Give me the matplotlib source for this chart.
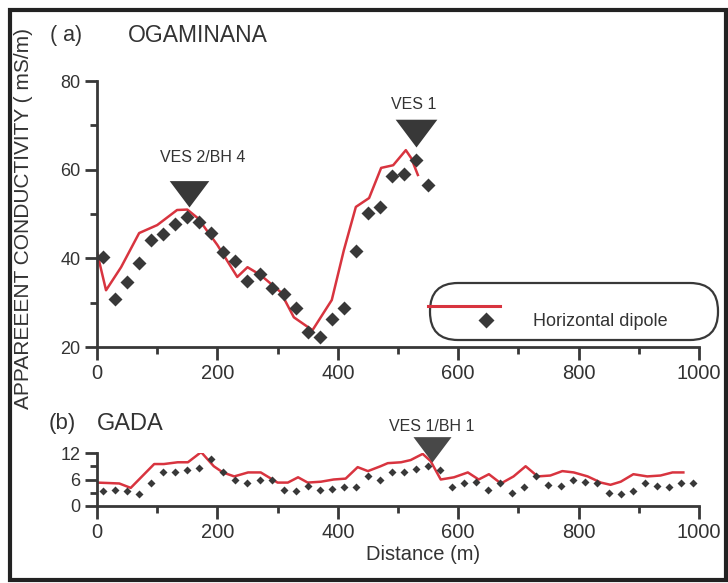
import matplotlib.pyplot as plt
from matplotlib.lines import Line2D
from matplotlib.patches import Rectangle, FancyBboxPatch
from matplotlib.transforms import IdentityTransform

plt.rcParams['font.family'] = ['Liberation Sans', 'DejaVu Sans']

# ---- panel (a) OGAMINANA ----
a_pts_x = [10, 30, 50, 70, 90, 110, 130, 150, 170, 190, 210, 230, 250, 270,
           290, 310, 330, 350, 370, 390, 410, 430, 450, 470, 490, 510, 530, 550]
a_pts_y = [40.3, 30.8, 34.6, 38.9, 44.1, 45.5, 47.7, 49.3, 48.2, 45.7, 41.4, 39.4, 34.9, 36.4,
           33.3, 31.9, 28.8, 23.3, 22.2, 26.3, 28.8, 41.6, 50.2, 51.6, 58.6, 59.0, 62.2, 56.5]
a_line_x = [0, 15, 40, 70, 100, 133, 150, 168, 200, 233, 250, 272, 305, 327, 345, 358,
            390, 410, 430, 452, 472, 492, 513, 522, 533]
a_line_y = [41.4, 32.8, 38.0, 45.7, 47.5, 50.9, 51.0, 49.0, 43.0, 35.8, 38.0, 36.2, 32.4, 26.7,
            25.0, 23.8, 30.6, 41.8, 51.6, 53.6, 60.4, 61.0, 64.4, 62.6, 58.8]
a_ves_x = [152, 530]
a_ves_y = [51.6, 65.1]
a_ves_labels = ['VES 2/BH 4', 'VES 1']

# ---- panel (b) GADA ----
b_pts_x = [10, 30, 50, 70, 90, 110, 130, 150, 170, 190, 210, 230, 250, 270, 290, 310, 330,
           350, 370, 390, 410, 430, 450, 470, 490, 510, 530, 550, 570, 590, 610, 630, 650,
           670, 690, 710, 730, 750, 770, 790, 810, 830, 850, 870, 890, 910, 930, 950, 970, 990]
b_pts_y = [3.5, 3.7, 3.3, 2.8, 5.1, 7.6, 7.8, 8.1, 8.5, 10.6, 7.6, 5.8, 5.1, 5.8, 6.0, 3.7, 3.5,
           4.6, 3.7, 3.9, 4.2, 4.4, 6.7, 5.8, 7.6, 7.6, 8.3, 9.0, 8.1, 4.2, 5.1, 5.5, 3.7,
           5.1, 3.0, 4.4, 6.7, 4.8, 4.6, 5.8, 5.5, 5.1, 3.0, 2.8, 3.5, 5.1, 4.6, 4.4, 5.1, 5.3]
b_line_x = [0, 19, 37, 56, 95, 111, 134, 151, 173, 194, 209, 228, 251, 272, 300, 317, 334,
            350, 372, 393, 413, 433, 450, 471, 483, 505, 521, 541, 554, 571, 593, 616, 634,
            651, 671, 692, 712, 732, 753, 773, 792, 815, 837, 853, 870, 891, 914, 936, 956, 974]
b_line_y = [5.3, 5.2, 5.1, 4.1, 9.5, 9.5, 9.9, 9.9, 12.2, 9.0, 7.6, 6.7, 7.6, 7.6, 5.3, 5.3, 6.5,
            5.3, 5.5, 6.0, 6.2, 8.8, 7.9, 9.0, 9.7, 9.9, 10.4, 11.8, 10.2, 6.0, 6.5, 7.6, 6.0,
            7.2, 5.1, 6.7, 9.0, 6.7, 6.9, 7.9, 7.6, 6.7, 5.3, 4.8, 5.5, 7.2, 6.7, 6.9, 7.6, 7.6]
b_ves_x = [556]
b_ves_y = [10.0]
b_ves_labels = ['VES 1/BH 1']

RED = '#d8343f'
DARK = '#383838'
TXT = '#333333'

# wide triangle pointing down, tip at the data point
tri = [(-0.75, 1.0), (0.75, 1.0), (0.0, 0.0), (-0.75, 1.0)]

fig = plt.figure(figsize=(7.28, 5.83), dpi=100)
W, H = 728, 583
ax_a = fig.add_axes([97 / W, 1 - 347 / H, 602 / W, 266 / H])
ax_b = fig.add_axes([97 / W, 1 - 506 / H, 602 / W, 53 / H])

for ax in (ax_a, ax_b):
    for s in ('top', 'right'):
        ax.spines[s].set_visible(False)
    for s in ('left', 'bottom'):
        ax.spines[s].set_linewidth(2.0)
        ax.spines[s].set_color(DARK)
        ax.spines[s].set_capstyle('projecting')
    ax.set_facecolor('none')
    ax.tick_params(which='major', length=9, width=2.0, color=DARK, labelcolor=TXT, pad=3)
    ax.tick_params(which='minor', length=5, width=2.0, color=DARK)
    ax.tick_params(axis='x', labelsize=14.5)
    ax.tick_params(axis='y', labelsize=13)
    ax.set_xlim(0, 1000)
    ax.set_xticks([0, 200, 400, 600, 800, 1000])
    ax.set_xticks([100, 300, 500, 700, 900], minor=True)

# panel (a)
ax_a.plot(a_line_x, a_line_y, color=RED, lw=1.8, zorder=2)
ax_a.plot(a_pts_x, a_pts_y, ls='none', marker='D', ms=7.5, color=DARK, mec='none', zorder=3)
ax_a.plot(a_ves_x[:1], a_ves_y[:1], ls='none', marker=tri, ms=38, color=DARK, mec='none',
          zorder=4, clip_on=False)
ax_a.plot(a_ves_x[1:], a_ves_y[1:], ls='none', marker=tri, ms=40, color=DARK, mec='none',
          zorder=4, clip_on=False)
ax_a.annotate(a_ves_labels[0], (a_ves_x[0], a_ves_y[0]), xytext=(14, 49),
              textcoords='offset pixels', ha='center', va='center', fontsize=11.5, color=TXT)
ax_a.annotate(a_ves_labels[1], (a_ves_x[1], a_ves_y[1]), xytext=(-2, 43),
              textcoords='offset pixels', ha='center', va='center', fontsize=11.5, color=TXT)
ax_a.set_ylim(20, 80)
ax_a.set_yticks([20, 40, 60, 80])
ax_a.set_yticks([30, 50, 70], minor=True)


class DipoleHandler:
    def legend_artist(self, legend, orig_handle, fontsize, handlebox):
        x0, y0 = handlebox.xdescent, handlebox.ydescent
        w, h = handlebox.width, handlebox.height
        ln = Line2D([x0 - 13, x0 + w], [y0 + h * 0.5 + 10] * 2, color=RED, lw=2.2)
        dm = Line2D([x0 + 29], [y0 + h * 0.5], ls='none', marker='D', ms=8.5,
                    color=DARK, mec='none')
        for art in (ln, dm):
            art.set_transform(handlebox.get_transform())
            handlebox.add_artist(art)
        return ln


# rounded legend box (pixel coordinates)
ax_a.add_artist(FancyBboxPatch((430, H - 340), 288, 57,
                               boxstyle='round,pad=0,rounding_size=28',
                               transform=IdentityTransform(), fill=False,
                               edgecolor=DARK, lw=1.6, clip_on=False, zorder=5))
leg = ax_a.legend([object()], ['Horizontal dipole'], handler_map={object: DipoleHandler()},
                  loc='center left', bbox_to_anchor=(446, H - 322),
                  bbox_transform=IdentityTransform(), borderaxespad=0, borderpad=0,
                  fontsize=13, handlelength=3.0, handletextpad=1.83, frameon=False)
for t in leg.get_texts():
    t.set_color(TXT)
leg.set_zorder(5)

# panel (b)
ax_b.plot(b_line_x, b_line_y, color=RED, lw=1.8, zorder=2)
ax_b.plot(b_pts_x, b_pts_y, ls='none', marker='D', ms=4, color=DARK, mec='none', zorder=3)
ax_b.plot(b_ves_x, b_ves_y, ls='none', marker=tri, ms=36.5, color=DARK, mec='none', zorder=4,
          alpha=0.92, clip_on=False)
ax_b.annotate(b_ves_labels[0], (b_ves_x[0], b_ves_y[0]), xytext=(0, 35),
              textcoords='offset pixels', ha='center', va='center', fontsize=11.5, color=TXT)
ax_b.set_ylim(0, 12)
ax_b.set_yticks([0, 6, 12])
ax_b.set_yticks([3, 9], minor=True)
ax_b.set_xlabel('Distance (m)', fontsize=14.5, color=TXT)
ax_b.xaxis.set_label_coords((423 - 97) / 602, -0.74)

# texts
fig.text(50 / W, 1 - 35 / H, '( a)', fontsize=15.5, color=TXT, va='center')
fig.text(128 / W, 1 - 35 / H, 'OGAMINANA', fontsize=16.5, color=TXT, va='center')
fig.text(49 / W, 1 - 424 / H, '(b)', fontsize=16, color=TXT, va='center')
fig.text(97 / W, 1 - 424 / H, 'GADA', fontsize=17, color=TXT, va='center')
fig.text(24 / W, 1 - 218 / H, 'APPAREEENT CONDUCTIVITY ( mS/m)', rotation=90, fontsize=15,
         color=TXT, ha='center', va='center')

# figure frame
fig.patches.append(Rectangle((10 / W, 3 / H), 716 / W, 570 / H, transform=fig.transFigure,
                             fill=False, lw=3, edgecolor='#222222'))

fig.savefig('out.png', dpi=100)
